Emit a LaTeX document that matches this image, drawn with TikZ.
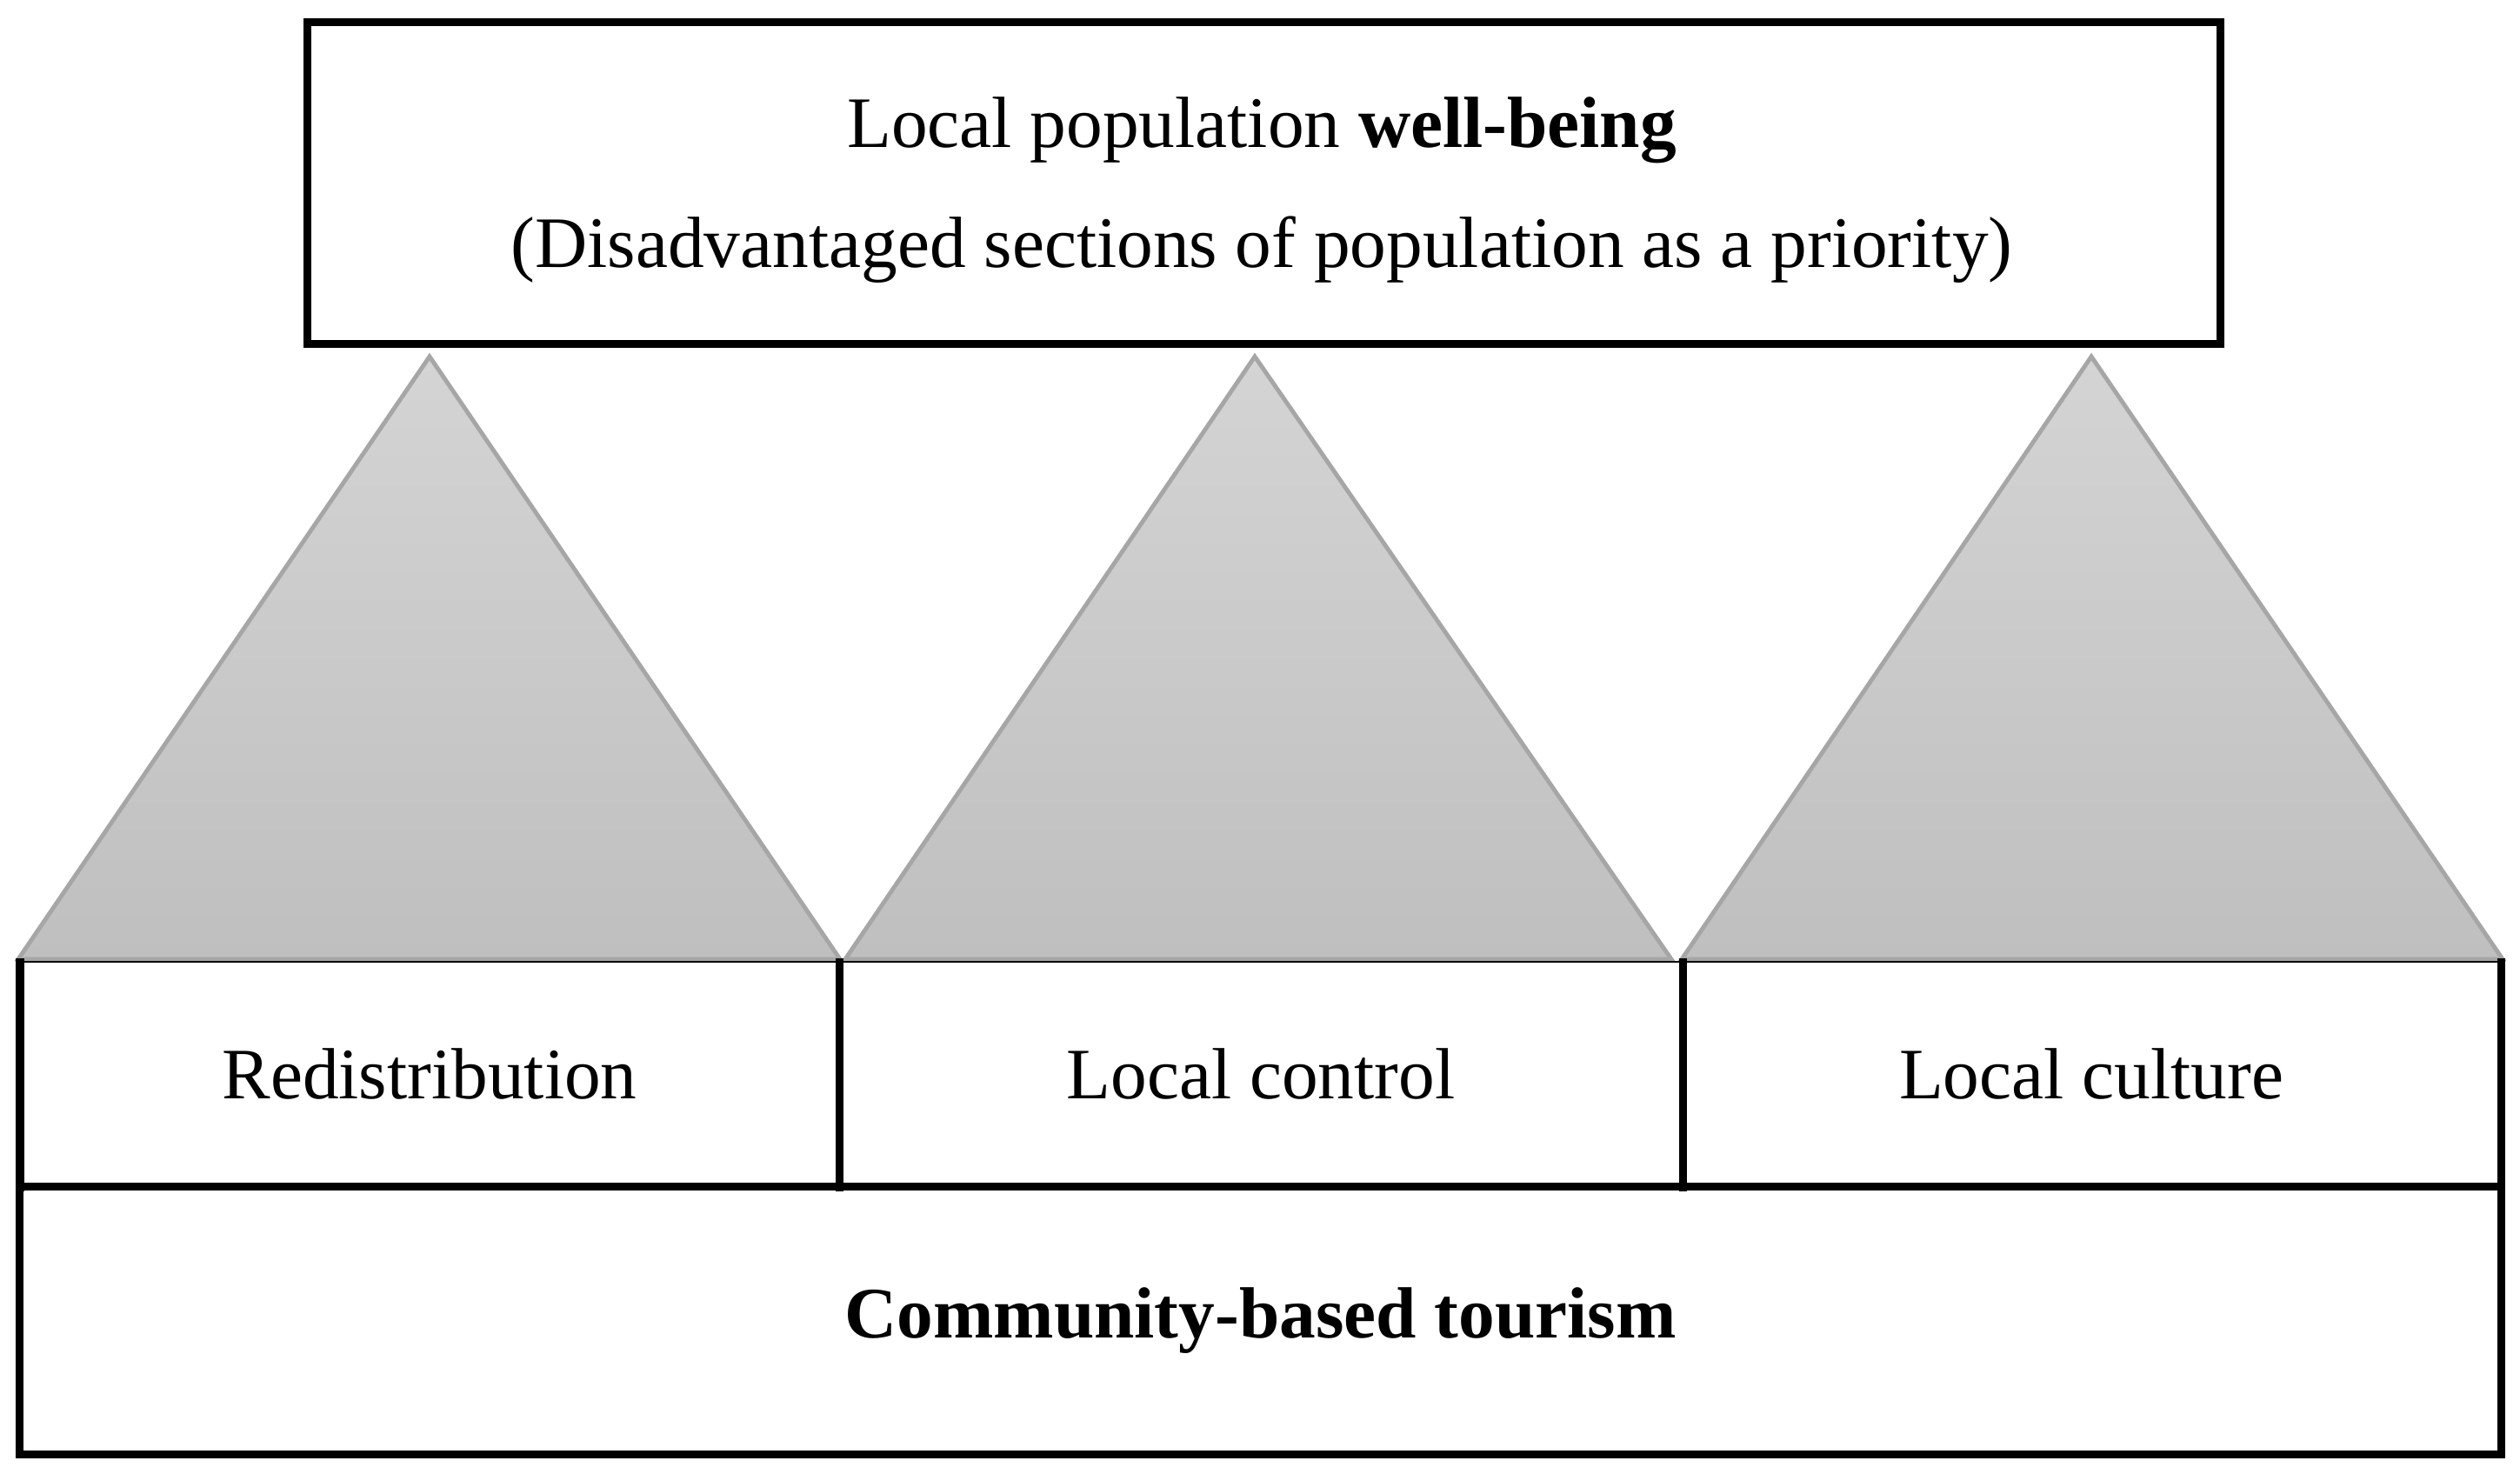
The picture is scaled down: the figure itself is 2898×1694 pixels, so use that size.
\documentclass[tikz,border=0pt]{standalone}
\usepackage{fontspec}
\setmainfont{Liberation Serif}
\definecolor{trtop}{HTML}{D4D4D4}
\definecolor{trbot}{HTML}{BFBFBF}
\definecolor{triedge}{HTML}{A6A6A6}
\begin{document}
\begin{tikzpicture}[x=0.01cm,y=-0.01cm]
\tikzset{
  heavy/.style={line width=2.56pt, line cap=rect},
  tri/.style={draw=triedge, line width=1.4pt, top color=trtop, bottom color=trbot, line join=miter},
  lbl/.style={font=\fontsize{23.7}{28}\selectfont, inner sep=0pt},
  bigbox/.style={draw, line width=2.56pt, inner sep=0pt}
}
\useasboundingbox (0,0) rectangle (2898,1694);
% triangles
\path[tri] (494,410) -- (966,1103) -- (21,1103) -- cycle;
\path[tri] (1443,410) -- (1922,1103) -- (972,1103) -- cycle;
\path[tri] (2405,410) -- (2878,1103) -- (1934,1103) -- cycle;
% top box
\node[bigbox, minimum width=21.99cm, minimum height=3.69cm] (top) at (1453.5,210.5) {};
\node[lbl] (t1) at (1451,150) {Local population \textbf{well-being}};
\node[lbl] (t2) at (1451,287) {(Disadvantaged sections of population as a priority)};
% bottom box
\node[bigbox, minimum width=28.53cm, minimum height=3.07cm] (base) at (1449.5,1518.5) {};
\node[lbl] (cbt) at (base.center) {\textbf{Community-based tourism}};
% middle boxes
\coordinate (m0t) at (23,1106);  \coordinate (m0b) at (23,1365);
\coordinate (m1t) at (965,1106); \coordinate (m1b) at (965,1365);
\coordinate (m2t) at (1935,1106); \coordinate (m2b) at (1935,1365);
\coordinate (m3t) at (2876,1106); \coordinate (m3b) at (2876,1365);
\draw[line width=0.6pt] (m0t) -- (m3t);
\draw[heavy] (m0t) -- (m0b);
\draw[heavy] (m1t) -- (m1b);
\draw[heavy] (m2t) -- (m2b);
\draw[heavy] (m3t) -- (m3b);
\node[lbl] (r1) at (494,1235) {Redistribution};
\node[lbl] (r2) at (1450,1235) {Local control};
\node[lbl] (r3) at (2405,1235) {Local culture};
\end{tikzpicture}
\end{document}
